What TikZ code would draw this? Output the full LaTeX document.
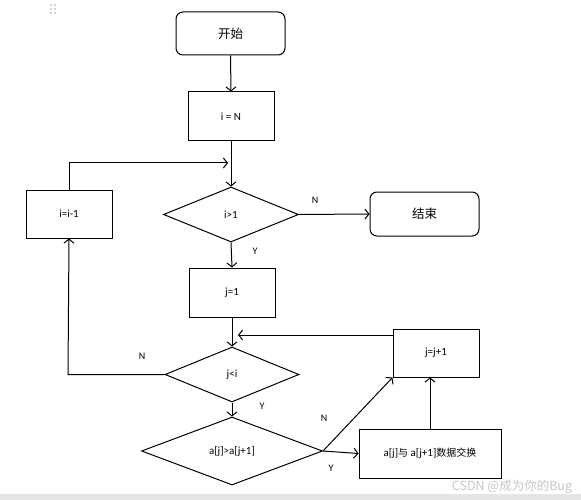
\documentclass[tikz,border=0pt]{standalone}
\usepackage{fontspec}
\setmainfont{Carlito}
\newfontfamily\cjk{Noto Sans CJK SC}
\usetikzlibrary{shapes.geometric,arrows.meta}
\begin{document}
\begin{tikzpicture}[x=1pt,y=-1pt,
  base/.style={draw, line width=1pt, inner sep=0pt, font=\fontsize{11}{12}\selectfont},
  box/.style={base, rectangle},
  term/.style={base, rectangle, rounded corners=7pt, font=\cjk\fontsize{12.5}{14}\selectfont},
  dec/.style={base, diamond},
  arr/.style={line width=1pt, -{Straight Barb[length=4pt,width=10pt,line width=1pt]}},
  lab/.style={font=\fontsize{10}{11}\selectfont, inner sep=0pt}]
\useasboundingbox (0,0) rectangle (581,500);
% top-left dots and bottom bar
\foreach \dx in {51,55}{\foreach \dy in {5,9,13}{\fill[gray!70] (\dx,\dy) circle (0.9pt);}}
\fill[gray!20] (0,494) rectangle (581,500);
% nodes
\node[term, minimum width=109pt, minimum height=43pt] (start) at (230.5,33.5) {开始};
\node[box, minimum width=86pt, minimum height=49pt] (iN) at (231,116.5) {i = N};
\node[dec, minimum width=135pt, minimum height=55pt] (d1) at (231,214.5) {i>1};
\node[box, minimum width=86pt, minimum height=48pt] (ii1) at (69,214) {i=i-1};
\node[term, minimum width=109pt, minimum height=44pt] (end) at (424.5,214) {结束};
\node[box, minimum width=86pt, minimum height=49pt] (j1) at (232,292.5) {j=1};
\node[dec, minimum width=134pt, minimum height=55pt] (d2) at (232,374.5) {j<i};
\node[box, minimum width=86pt, minimum height=48pt] (jj1) at (436,353) {j=j+1};
\node[dec, minimum width=181pt, minimum height=68pt] (d3) at (232,451) {a[j]>a[j+1]};
\node[box, minimum width=142pt, minimum height=49pt] (swap) at (430,453.5) {a[j]{\cjk\fontsize{10}{12}\selectfont 与} a[j+1]{\cjk\fontsize{10}{12}\selectfont 数据交换}};
% helper coordinates
\coordinate (loopTop) at (228,163);
\coordinate (jjIn) at (238,335);
\coordinate (jjOut) at (393,335);
\coordinate (leftDown) at (68,374.5);
% connectors
\draw[arr] (start.south) -- (iN.north);
\draw[arr] (iN.south) -- (d1.north);
\draw[arr] (ii1.north) |- (loopTop);
\draw[arr] (d1.east) -- (end.west);
\draw[arr] (d1.south) -- (j1.north);
\draw[arr] (j1.south) -- (d2.north);
\draw[arr] (jjOut) -- (jjIn);
\draw[arr] (d2.west) -- (leftDown) -- (ii1.south);
\draw[arr] (d2.south) -- (d3.north);
\draw[arr] (d3.east) -- (swap.west);
\draw[arr] (d3.east) -- (jj1.south west);
\draw[arr] (swap.north) -- (swap.north |- jj1.south);
% labels
\node[lab] (lN1) at (315,200) {N};
\node[lab] (lY1) at (255,251) {Y};
\node[lab] (lN2) at (142,356) {N};
\node[lab] (lY2) at (262,406) {Y};
\node[lab] (lN3) at (324,418) {N};
\node[lab] (lY3) at (331,468) {Y};
\node[font=\cjk\fontsize{12.5}{14}\selectfont, text=gray!45, inner sep=0pt] (wm) at (512,487) {CSDN @成为你的Bug};
\end{tikzpicture}
\end{document}
